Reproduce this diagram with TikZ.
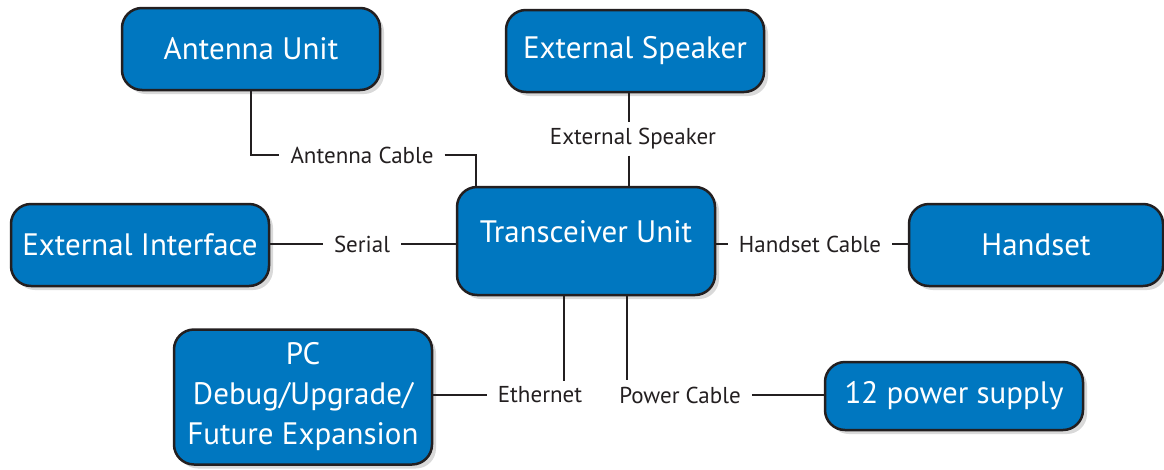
\documentclass[tikz,border=0pt]{standalone}
\usepackage{fontspec}
\setmainfont{PT Sans}
\usetikzlibrary{positioning,shadows}
\definecolor{boxblue}{HTML}{0077C0}
\definecolor{inkdark}{HTML}{231F20}

\begin{document}
\begin{tikzpicture}[x=1pt,y=-1pt,
  unit/.style={draw=inkdark, line width=2.5pt, fill=boxblue, rounded corners=20pt,
    text=white, font=\fontsize{31}{40}\selectfont, align=center,
    minimum width=258pt, minimum height=82pt,
    drop shadow={shadow xshift=4pt,shadow yshift=-4pt,opacity=0.3}},
  cable/.style={font=\fontsize{23}{26}\selectfont, text=inkdark, inner xsep=11pt, inner ysep=6pt},
  wire/.style={draw=inkdark, line width=2.5pt}]
  \useasboundingbox (0,0) rectangle (1164,469);
  % units
  \node[unit] (ant) at (251,49) {Antenna Unit};
  \node[unit] (spk) at (635,51) {External Speaker};
  \node[unit, minimum height=108pt, text depth=19pt] (trx) at (586,241) {Transceiver Unit};
  \node[unit] (ext) at (140,245) {External Interface};
  \node[unit, minimum width=254pt] (hset) at (1036,245) {Handset};
  \node[unit, minimum height=135pt] (pc) at (303,397) {PC\\Debug/Upgrade/\\Future Expansion};
  \node[unit, minimum height=68pt] (psu) at (954,396) {12 power supply};
  % cable labels
  \node[cable] (acab) at (362,155) {Antenna Cable};
  \node[cable] (spkl) at (633,139) {External Speaker};
  \node[cable] (ser) at (362,244) {Serial};
  \node[cable] (hcab) at (810,244) {Handset Cable};
  \node[cable] (eth) at (540,395) {Ethernet};
  \node[cable] (pwr) at (680,395) {Power Cable};
  \coordinate (spkdrop) at ([xshift=-6pt]spk.south);
  \coordinate (ethdrop) at ([xshift=-22pt]trx.south);
  \coordinate (pwrdrop) at ([xshift=41pt]trx.south);
  % wires
  \draw[wire] (ant.south) |- (acab.west);
  \draw[wire] (acab.east) -| ([xshift=-110pt]trx.north);
  \draw[wire] (spkdrop) -- (spkdrop |- spkl.north);
  \draw[wire] (spkdrop |- spkl.south) -- (spkdrop |- trx.north);
  \draw[wire] (ext.east |- ser.west) -- (ser.west);
  \draw[wire] (ser.east) -- (ser.east -| trx.west);
  \draw[wire] (trx.east |- hcab.west) -- (hcab.west);
  \draw[wire] (hcab.east) -- (hcab.east -| hset.west);
  \draw[wire] (ethdrop) -- (ethdrop |- eth.north);
  \draw[wire] (pc.east |- eth.west) -- (eth.west);
  \draw[wire] (pwrdrop) -- (pwrdrop |- pwr.north);
  \draw[wire] (pwr.east) -- (pwr.east -| psu.west);
\end{tikzpicture}
\end{document}
